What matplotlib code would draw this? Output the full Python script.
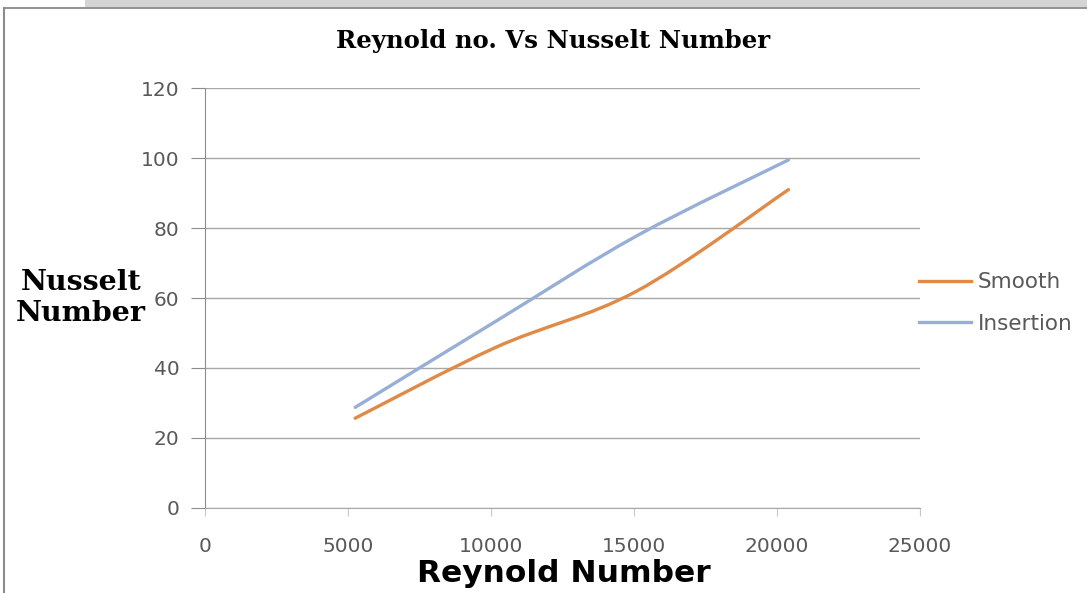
# Reynolds number vs Nusselt number, smooth tube and tube with insertion

import numpy as np
import matplotlib
matplotlib.use('Agg')
import matplotlib.pyplot as plt
from matplotlib.path import Path
from matplotlib.patches import PathPatch, Rectangle
from matplotlib.lines import Line2D

reynolds = [5250, 10200, 15100, 20400]
nu_smooth = [25.6, 46.0, 62.0, 91.0]
nu_insertion = [28.7, 53.5, 77.8, 99.5]
series_names = ['Smooth', 'Insertion']
series_colors = ['#E08A47', '#97AED6']

xticks = [0, 5000, 10000, 15000, 20000, 25000]
yticks = [0, 20, 40, 60, 80, 100, 120]

tick_color = '#595959'
grid_color = '#A8A8A8'


def smooth_path(x, y):
    # cubic bezier through the points, same kind of smoothing a spreadsheet uses
    x = np.asarray(x, float)
    y = np.asarray(y, float)
    px = np.concatenate([[x[0]], x, [x[-1]]])
    py = np.concatenate([[y[0]], y, [y[-1]]])
    verts = [(x[0], y[0])]
    codes = [Path.MOVETO]
    for i in range(1, len(x)):
        c1 = (px[i] + (px[i + 1] - px[i - 1]) / 6, py[i] + (py[i + 1] - py[i - 1]) / 6)
        c2 = (px[i + 1] - (px[i + 2] - px[i]) / 6, py[i + 1] - (py[i + 2] - py[i]) / 6)
        verts += [c1, c2, (px[i + 1], py[i + 1])]
        codes += [Path.CURVE4] * 3
    return Path(verts, codes)


fig = plt.figure(figsize=(10.87, 5.93), dpi=100)

# chart frame
fig.patches.append(Rectangle((85 / 1087, 1 - 7 / 593), 1, 7 / 593, transform=fig.transFigure,
                             facecolor='#D4D4D4', edgecolor='none'))
fig.add_artist(Line2D([3.5 / 1087, 1], [1 - 7.5 / 593, 1 - 7.5 / 593], transform=fig.transFigure,
                      color='#7F7F7F', lw=1.2))
fig.add_artist(Line2D([3.5 / 1087, 3.5 / 1087], [0, 1 - 7.5 / 593], transform=fig.transFigure,
                      color='#8C8C8C', lw=1.5))

ax = fig.add_axes([205 / 1087, 1 - 507.7 / 593, 715 / 1087, 419.4 / 593])
ax.set_xlim(0, 25000)
ax.set_ylim(0, 120)
ax.set_xticks(xticks)
ax.set_yticks(yticks)
ax.yaxis.grid(True, color=grid_color, lw=1.0)
ax.set_axisbelow(True)
for s in ['top', 'right']:
    ax.spines[s].set_visible(False)
ax.spines['left'].set_color('#8C8C8C')
ax.spines['bottom'].set_color(grid_color)
ax.tick_params(axis='y', length=10, color='#8C8C8C', pad=8.5, labelsize=14.5, labelcolor=tick_color)
ax.tick_params(axis='x', length=6, color='#C8C8C8', pad=15, labelsize=14.5, labelcolor=tick_color)
for lab in ax.get_xticklabels() + ax.get_yticklabels():
    lab.set_family('DejaVu Sans')

for ys, name, col in zip([nu_smooth, nu_insertion], series_names, series_colors):
    ax.add_patch(PathPatch(smooth_path(reynolds, ys), facecolor='none', edgecolor=col,
                           lw=2.4, capstyle='round'))

handles = [Line2D([], [], color=c, lw=2.4) for c in series_colors]
leg = fig.legend(handles, series_names, loc='center left', bbox_to_anchor=(900 / 1087, 1 - 303 / 593),
                 frameon=False, handlelength=2.4, handletextpad=0.3, labelspacing=1.0,
                 prop={'family': 'DejaVu Sans', 'size': 15.5})
for t in leg.get_texts():
    t.set_color(tick_color)

fig.text(553 / 1087, 1 - 41 / 593, 'Reynold no. Vs Nusselt Number', ha='center', va='center',
         family='DejaVu Serif', weight='bold', fontsize=17.6)
fig.text(81 / 1087, 1 - 298 / 593, 'Nusselt\nNumber', ha='center', va='center',
         family='DejaVu Serif', weight='bold', fontsize=20.5, linespacing=1.2)
fig.text(564 / 1087, 1 - 574 / 593, 'Reynold Number', ha='center', va='center',
         family='DejaVu Sans', weight='bold', fontsize=22.5)

plt.savefig('out.png', dpi=100)
plt.close(fig)
